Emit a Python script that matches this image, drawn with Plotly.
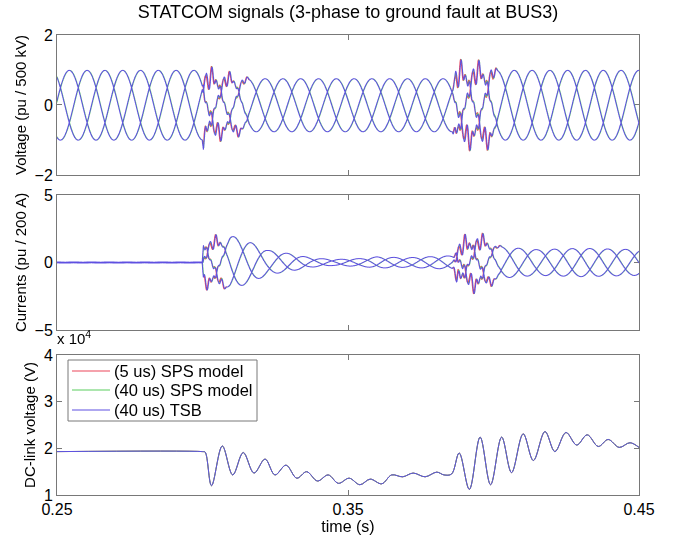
import numpy as np
import plotly.graph_objects as go

# ---------------------------------------------------------------------------
# Signal description
# ---------------------------------------------------------------------------
T_START, T_END, N_SAMPLES = 0.25, 0.45, 4001
FREQ_HZ = 54.5            # fundamental of the bus quantities
PEAK_TIME_A = 0.2542      # first positive peak of phase a
PHASE_SHIFTS_DEG = [0.0, -120.0, 120.0]

# Bus voltage envelope (pu / 500 kV)
V_ENV_T = [0.25, 0.3000, 0.3010, 0.3140, 0.3860, 0.3880, 0.4000, 0.45]
V_ENV_A = [1.00, 1.00, 0.82, 0.76, 0.76, 0.95, 1.00, 1.00]
# Harmonic distortion level of the voltage during the two transients
V_DIST_T = [0.25, 0.2999, 0.3003, 0.3080, 0.3140, 0.3165, 0.3858, 0.3870, 0.3990, 0.4015, 0.45]
V_DIST_A = [0.00, 0.00, 0.30, 0.18, 0.10, 0.00, 0.00, 0.32, 0.25, 0.00, 0.00]

# STATCOM current envelope (pu / 200 A)
I_ENV_T = [0.25, 0.2999, 0.3003, 0.3060, 0.3095, 0.3163, 0.3225, 0.3300, 0.3370,
           0.3450, 0.3550, 0.3600, 0.3700, 0.3800, 0.3860, 0.3890, 0.3940, 0.3990,
           0.4030, 0.4150, 0.4300, 0.45]
I_ENV_A = [0.04, 0.04, 1.50, 1.60, 2.00, 1.50, 0.90, 0.65, 0.35,
           0.22, 0.30, 0.42, 0.35, 0.45, 0.50, 1.30, 1.70, 1.50,
           1.15, 0.95, 1.05, 0.95]
I_PHASE_DEG = 90.0
I_DIST_T = [0.25, 0.2999, 0.3003, 0.3060, 0.3085, 0.3858, 0.3875, 0.3950, 0.4000, 0.4030, 0.45]
I_DIST_A = [0.00, 0.00, 0.45, 0.40, 0.00, 0.00, 0.60, 0.55, 0.20, 0.00, 0.00]

HARMONICS = [7, 9, 11, 13]
HARM_WEIGHTS = [0.45, 0.40, 0.35, 0.25]
HARM_PHASES = [0.3, 1.1, 2.0, 0.7]

# DC-link voltage turning points (s, V)
DC_T = [0.2500, 0.3000, 0.3009, 0.3031, 0.3068, 0.3104, 0.3140, 0.3177, 0.3215,
        0.3249, 0.3287, 0.3324, 0.3358, 0.3395, 0.3432, 0.3467, 0.3504, 0.3541,
        0.3576, 0.3616, 0.3650, 0.3688, 0.3724, 0.3765, 0.3805, 0.3830, 0.3856,
        0.3882, 0.3917, 0.3954, 0.3990, 0.4028, 0.4062, 0.4102, 0.4137, 0.4177,
        0.4211, 0.4249, 0.4286, 0.4322, 0.4360, 0.4394, 0.4432, 0.4469, 0.4500]
DC_V = [19300, 19300, 19200, 12000, 20500, 14300, 19100, 14700, 17700,
        14300, 16400, 13600, 15000, 13000, 14300, 12500, 13600, 12200,
        13400, 12400, 14300, 13900, 14700, 13900, 14900, 14300, 14500,
        19000, 11200, 22400, 12200, 22400, 14800, 23100, 17400, 23600,
        19300, 23400, 20700, 22900, 20400, 21900, 20200, 21200, 20200]

# Simulation variants
MODEL_NAMES = ["(5 us) SPS model", "(40 us) SPS model", "(40 us) TSB"]
MODEL_COLORS = ["rgb(235,70,90)", "rgb(90,205,95)", "rgb(95,80,225)"]
MODEL_HARM_OFFSET = [0.7, 0.35, 0.0]     # rad, differences in the switching ripple
MODEL_TIME_SHIFT = [0.0, 0.00012, 0.0]   # s

# Axes
X_TICKS = [0.25, 0.35, 0.45]
V_TICKS = [-2, 0, 2]
I_TICKS = [-5, 0, 5]
DC_TICKS = [10000, 20000, 30000, 40000]
DC_TICK_TEXT = ["1", "2", "3", "4"]

# ---------------------------------------------------------------------------
t = np.linspace(T_START, T_END, N_SAMPLES)
w = 2 * np.pi * FREQ_HZ


def level(times, values, tt):
    return np.interp(tt, times, values)


def ripple(theta, offset):
    out = np.zeros_like(theta)
    for h, a, p in zip(HARMONICS, HARM_WEIGHTS, HARM_PHASES):
        out += a * np.sin(h * theta + p + offset)
    return out


def phase_voltage(k, m):
    tt = t - MODEL_TIME_SHIFT[m]
    theta = w * (tt - PEAK_TIME_A) + np.deg2rad(PHASE_SHIFTS_DEG[k])
    return (level(V_ENV_T, V_ENV_A, tt) * np.cos(theta)
            + level(V_DIST_T, V_DIST_A, tt) * ripple(theta, MODEL_HARM_OFFSET[m]))


def phase_current(k, m):
    tt = t - MODEL_TIME_SHIFT[m]
    theta = w * (tt - PEAK_TIME_A) + np.deg2rad(PHASE_SHIFTS_DEG[k] + I_PHASE_DEG)
    return (level(I_ENV_T, I_ENV_A, tt) * np.cos(theta)
            + level(I_DIST_T, I_DIST_A, tt) * ripple(theta, MODEL_HARM_OFFSET[m] + 0.5))


fig = go.Figure()
for m, (name, col) in enumerate(zip(MODEL_NAMES, MODEL_COLORS)):
    for k in range(3):
        fig.add_trace(go.Scattergl(x=t, y=phase_voltage(k, m), mode="lines",
                                   line=dict(color=col, width=1), showlegend=False,
                                   xaxis="x", yaxis="y", hoverinfo="skip"))
for m, (name, col) in enumerate(zip(MODEL_NAMES, MODEL_COLORS)):
    for k in range(3):
        fig.add_trace(go.Scattergl(x=t, y=phase_current(k, m), mode="lines",
                                   line=dict(color=col, width=1), showlegend=False,
                                   xaxis="x2", yaxis="y2", hoverinfo="skip"))
for m, (name, col) in enumerate(zip(MODEL_NAMES, MODEL_COLORS)):
    fig.add_trace(go.Scatter(x=DC_T, y=DC_V, mode="lines", name=name, showlegend=False,
                             line=dict(color=col, width=1, shape="spline", smoothing=1.0),
                             xaxis="x3", yaxis="y3", hoverinfo="skip"))

FONT = "Liberation Sans, Arial, sans-serif"
AXCOL = "rgb(120,120,120)"

# Compact MATLAB-style legend box in the DC-link panel (paper coordinates)
PLOT_L, PLOT_W, PLOT_B, PLOT_H = 57, 582, 495, 460


def px_x(px):
    return (px - PLOT_L) / PLOT_W


def px_y(py):
    return (PLOT_B - py) / PLOT_H


shapes = [dict(type="rect", xref="paper", yref="paper",
               x0=px_x(68), x1=px_x(257), y0=px_y(421), y1=px_y(360),
               line=dict(color=AXCOL, width=1), fillcolor="white", layer="above")]
annotations = []
LEGEND_ROWS = [371, 390, 410]
for yrow, name, col in zip(LEGEND_ROWS, MODEL_NAMES, MODEL_COLORS):
    yc = px_y(yrow)
    shapes.append(dict(type="line", xref="paper", yref="paper",
                       x0=px_x(72), x1=px_x(110), y0=yc, y1=yc,
                       line=dict(color=col, width=1.2), layer="above"))
    annotations.append(dict(text=name, xref="paper", yref="paper", x=px_x(112), y=yc,
                            xanchor="left", yanchor="middle", showarrow=False,
                            font=dict(size=16.5)))
annotations.append(dict(text="x 10<sup>4</sup>", xref="paper", yref="paper",
                        x=-0.004, y=0.318, xanchor="left", yanchor="bottom",
                        showarrow=False, font=dict(size=15)))

common_x = dict(range=[T_START, T_END], tickvals=X_TICKS, ticks="inside", ticklen=5,
                showline=True, mirror="ticks", linecolor=AXCOL, tickcolor=AXCOL,
                showgrid=False, zeroline=False, linewidth=1)
common_y = dict(ticks="inside", ticklen=5, showline=True, mirror="ticks",
                linecolor=AXCOL, tickcolor=AXCOL, showgrid=False, zeroline=False,
                linewidth=1, tickfont=dict(size=16), title_standoff=4)

fig.update_layout(
    width=683, height=543,
    margin=dict(l=57, r=44, t=35, b=48),
    paper_bgcolor="white", plot_bgcolor="white",
    font=dict(family=FONT, size=16, color="black"),
    showlegend=False,
    title=dict(text="STATCOM signals (3-phase to ground fault at BUS3)",
               x=0.5, xref="paper", xanchor="center", y=0.978, yanchor="middle",
               font=dict(size=18)),
    xaxis=dict(common_x, domain=[0, 1], anchor="y", showticklabels=False),
    xaxis2=dict(common_x, domain=[0, 1], anchor="y2", showticklabels=False),
    xaxis3=dict(common_x, domain=[0, 1], anchor="y3", tickfont=dict(size=16),
                title=dict(text="time (s)", font=dict(size=16), standoff=2)),
    yaxis=dict(common_y, domain=[0.6957, 1.0], range=[-2, 2], tickvals=V_TICKS,
               title=dict(text="Voltage (pu / 500 kV)", font=dict(size=15))),
    yaxis2=dict(common_y, domain=[0.3587, 0.6522], range=[-5, 5], tickvals=I_TICKS,
                title=dict(text="Currents (pu / 200 A)", font=dict(size=15))),
    yaxis3=dict(common_y, domain=[0.0, 0.3043], range=[10000, 40000],
                tickvals=DC_TICKS, ticktext=DC_TICK_TEXT,
                title=dict(text="DC-link voltage (V)", font=dict(size=15))),
    shapes=shapes,
    annotations=annotations,
)

fig.write_html("out.html")
